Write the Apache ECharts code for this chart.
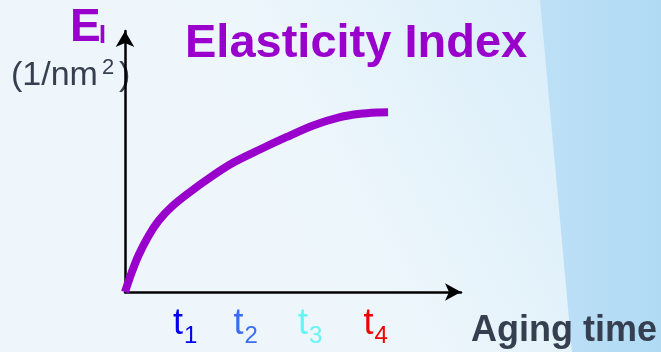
<!DOCTYPE html>
<html>
<head>
<meta charset="utf-8">
<script src="https://cdn.jsdelivr.net/npm/echarts@6/dist/echarts.min.js"></script>
<style>html,body{margin:0;padding:0;}#c{width:661px;height:352px;}</style>
</head>
<body>
<div id="c"></div>
<script>
// Aging time (arbitrary units) and Elasticity Index (arbitrary units)
const agingTime = [0, 2, 4, 7, 10, 14, 19, 25, 32, 40, 48, 56, 64, 70, 75, 78.3];
const elasticityIndex = [0, 7.5, 14.0, 21.5, 27.3, 32.8, 38.0, 43.6, 49.4, 54.5, 59.3, 63.8, 67.0, 68.3, 68.8, 68.9];
// time marks on the x axis
const tickValues = [17.9, 35.9, 55.1, 74.6];
const tickNames = ['1', '2', '3', '4'];
const tickColors = ['#0000f0', '#3a6cf5', '#66f5f5', '#f00000'];

const FONT = '"Liberation Sans", Arial, sans-serif';
const PURPLE = '#9900cc';
const GRAY = '#363f50';

const rich = {};
tickColors.forEach((c, i) => {
  rich['t' + i] = { fontSize: 36, fontFamily: FONT, color: c, verticalAlign: 'top' };
  rich['s' + i] = { fontSize: 24, fontFamily: FONT, color: c, verticalAlign: 'bottom', padding: [18, 0, 0, 1] };
});

const chart = echarts.init(document.getElementById('c'), null, { renderer: 'canvas' });
chart.setOption({
  backgroundColor: {
    type: 'linear', x: 0, y: 1, x2: 1, y2: 0,
    colorStops: [
      { offset: 0, color: '#eef6fb' },
      { offset: 0.5, color: '#edf6fb' },
      { offset: 1, color: '#d2ebf9' }
    ]
  },
  animation: false,
  title: {
    text: 'Elasticity Index',
    left: 180, top: 16,
    textStyle: { fontFamily: FONT, fontSize: 47, fontWeight: 'bold', color: PURPLE }
  },
  graphic: [
    {
      type: 'polygon', z: -10, silent: true,
      shape: { points: [[540, 0], [661, 0], [661, 352], [572, 352]] },
      style: {
        fill: {
          type: 'linear', x: 0, y: 0, x2: 1, y2: 0,
          colorStops: [{ offset: 0, color: '#bde0f6' }, { offset: 1, color: '#b0daf4' }]
        }
      }
    },
    { type: 'text', left: 70, top: 5, style: { text: 'E', font: 'bold 46px ' + FONT, fill: PURPLE } },
    { type: 'text', left: 99, top: 24, style: { text: 'I', font: 'bold 25px ' + FONT, fill: PURPLE } },
    { type: 'text', left: 11, top: 59, style: { text: '(1/nm', font: '34px ' + FONT, fill: GRAY } },
    { type: 'text', left: 102, top: 57, style: { text: '2', font: '22px ' + FONT, fill: GRAY } },
    { type: 'text', left: 119, top: 59, style: { text: ')', font: '34px ' + FONT, fill: GRAY } },
    { type: 'text', left: 471, top: 313, style: { text: 'Aging time', font: 'bold 36px ' + FONT, fill: GRAY } }
  ],
  grid: { left: 125, right: 200, top: 31, bottom: 60, containLabel: false },
  xAxis: {
    type: 'value', min: 0, max: 100,
    splitLine: { show: false },
    axisTick: { show: false },
    axisLine: { show: true, onZero: false, symbol: ['none', 'arrow'], symbolSize: [13, 16],
      lineStyle: { color: '#000', width: 2.5 } },
    axisLabel: {
      show: true, margin: 14,
      customValues: tickValues,
      formatter: function (v) {
        const i = tickValues.indexOf(v);
        return '{t' + i + '|t}{s' + i + '|' + tickNames[i] + '}';
      },
      rich: rich
    }
  },
  yAxis: {
    type: 'value', min: 0, max: 100,
    splitLine: { show: false },
    axisTick: { show: false },
    axisLabel: { show: false },
    axisLine: { show: true, onZero: false, symbol: ['none', 'arrow'], symbolSize: [14, 16],
      lineStyle: { color: '#000', width: 2.5 } }
  },
  series: [{
    type: 'line',
    data: agingTime.map((x, i) => [x, elasticityIndex[i]]),
    smooth: 0.3,
    symbol: 'none',
    lineStyle: { color: PURPLE, width: 8, cap: 'butt' },
    z: 1
  }]
});
</script>
</body>
</html>
